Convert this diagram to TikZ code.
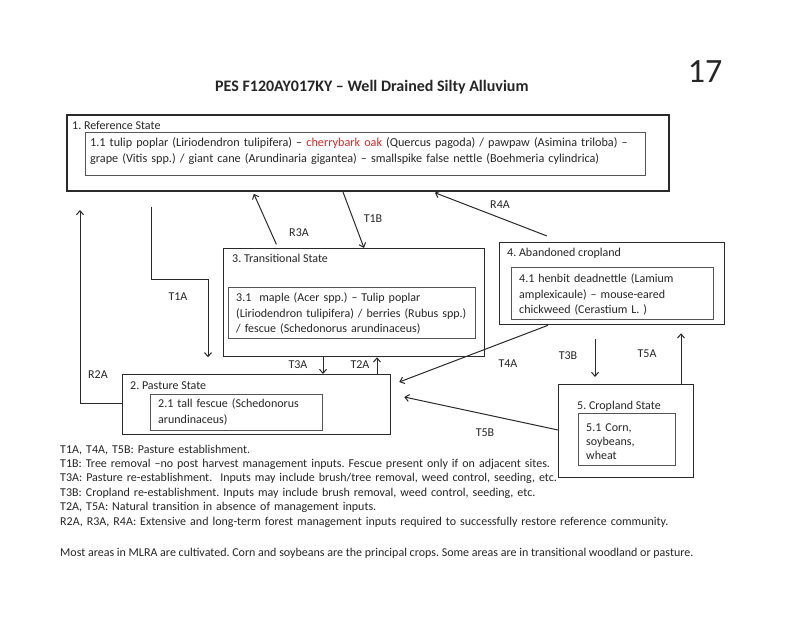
\documentclass[tikz,border=0pt]{standalone}
\usepackage{fontspec}
\setmainfont{Carlito}
\usetikzlibrary{arrows.meta,calc}
\definecolor{txt}{HTML}{262626}
\definecolor{ln}{HTML}{2A2A2A}
\definecolor{inln}{HTML}{555555}
\definecolor{oak}{HTML}{D42A2A}
\tikzset{
  refbox/.style={draw=ln, line width=2pt, rectangle, inner sep=0pt, anchor=north west},
  outerbox/.style={draw=ln, line width=1.3pt, rectangle, inner sep=0pt, anchor=north west},
  innerbox/.style={draw=inln, line width=0.9pt, rectangle, inner sep=0pt, anchor=north west},
  arr/.style={draw=ln, line width=1pt, -{Straight Barb[length=4pt,width=7pt]}},
  lbl/.style={font=\fontsize{12}{14.4}\selectfont, text=txt, anchor=base west, inner sep=0pt},
  multi/.style={lbl, align=left, text width=#1},
  tlbl/.style={font=\fontsize{12}{14.4}\selectfont, text=txt, inner sep=0pt},
}
\frenchspacing
\begin{document}
\begin{tikzpicture}[x=1pt,y=-1pt]
\useasboundingbox[fill=white] (0,0) rectangle (800,617);

% title and page number
\node[font=\fontsize{34}{34}\selectfont, text=txt, inner sep=0pt] (pagenum) at (705,72) {17};
\node[font=\bfseries\fontsize{16}{18}\selectfont, text=txt, anchor=base west, inner sep=0pt] (title) at (215,92) {PES F120AY017KY – Well Drained Silty Alluvium};

% state boxes
\node[refbox, minimum width=602pt, minimum height=76pt] (ref) at (66,114) {};
\node[innerbox, minimum width=560pt, minimum height=43pt] (ref1) at (85,132) {};
\node[outerbox, minimum width=261pt, minimum height=108pt] (trans) at (223,248) {};
\node[innerbox, minimum width=247pt, minimum height=51pt] (trans1) at (228,287) {};
\node[outerbox, minimum width=225pt, minimum height=82pt] (aband) at (499,242) {};
\node[innerbox, minimum width=202pt, minimum height=52pt] (aband1) at (511,267) {};
\node[outerbox, minimum width=135pt, minimum height=93pt] (crop) at (558,384) {};
\node[innerbox, minimum width=97pt, minimum height=52pt] (crop1) at (578,413) {};
\node[outerbox, minimum width=268pt, minimum height=60pt] (past) at (122,374) {};
\node[innerbox, minimum width=172pt, minimum height=36pt] (past1) at (150,394) {};

% state texts
\node[lbl] (reft) at (72,130) {1. Reference State};
\node[multi=560pt, font=\fontsize{12.2}{16}\selectfont] (ref1t) at (90,147) {1.1 tulip poplar (Liriodendron tulipifera) – \textcolor{oak}{cherrybark oak} (Quercus pagoda) / pawpaw (Asimina triloba) –\\grape (Vitis spp.) / giant cane (Arundinaria gigantea) – smallspike false nettle (Boehmeria cylindrica)};
\node[lbl] (transt) at (232,263) {3. Transitional State};
\node[multi=240pt, font=\fontsize{12}{15.5}\selectfont] (trans1t) at (236,302) {3.1\ \ maple (Acer spp.) – Tulip poplar\\(Liriodendron tulipifera) / berries (Rubus spp.)\\/ fescue (Schedonorus arundinaceus)};
\node[lbl] (abandt) at (507,257) {4. Abandoned cropland};
\node[multi=200pt, font=\fontsize{12}{15.5}\selectfont] (aband1t) at (519,283) {4.1 henbit deadnettle (Lamium\\amplexicaule) – mouse-eared\\chickweed (Cerastium L. )};
\node[lbl] (cropt) at (577,409) {5. Cropland State};
\node[multi=90pt, font=\fontsize{12}{14}\selectfont] (crop1t) at (586,431) {5.1 Corn,\\soybeans,\\wheat};
\node[lbl] (pastt) at (130,389) {2. Pasture State};
\node[multi=170pt, font=\fontsize{12}{16}\selectfont] (past1t) at (158,407) {2.1 tall fescue (Schedonorus\\arundinaceus)};

% connectors
\coordinate (t1abend) at (208,280);
\draw[arr, shorten <=15pt] ([xshift=85pt]ref.south west) |- (t1abend) -- (t1abend |- trans.south);
\draw[arr, shorten >=18pt] ([yshift=-29pt]past.north west) -| ([xshift=14pt]ref.south west);
\draw[arr, shorten <=4pt, shorten >=2pt] ([xshift=55pt]trans.north west) -- ([xshift=187pt]ref.south west);
\draw[arr] ([xshift=277pt]ref.south west) -- ([xshift=141pt]trans.north west);
\draw[arr, shorten >=2pt] ([xshift=48pt,yshift=6pt]aband.north west) -- ([xshift=367pt]ref.south west);
\coordinate (t3a) at ([xshift=100pt]trans.south west);
\draw[arr] (t3a) -- (t3a |- past.north);
\coordinate (t2a) at ([xshift=255pt]past.north west);
\draw[arr] (t2a) -- (t2a |- trans.south);
\draw[arr] ([xshift=49pt]aband.south west) -- ([xshift=8pt,yshift=-8pt]past.north east);
\draw[arr] ([yshift=-46pt]crop.north west) -- ([xshift=13pt,yshift=-23pt]past.north east);
\coordinate (t3b) at ([xshift=96pt]aband.south west);
\draw[arr, shorten <=14pt, shorten >=7pt] (t3b) -- (t3b |- crop.north);
\coordinate (t5a) at ([xshift=123pt]crop.north west);
\draw[arr, shorten >=8pt] (t5a) -- (t5a |- aband.south);

% transition labels
\node[tlbl] (lr2a) at (98,375) {R2A};
\node[tlbl] (lt1a) at (178,297) {T1A};
\node[tlbl] (lr3a) at (299,233) {R3A};
\node[tlbl] (lt1b) at (373,219) {T1B};
\node[tlbl] (lr4a) at (500,205) {R4A};
\node[tlbl] (lt3a) at (298,365) {T3A};
\node[tlbl] (lt2a) at (360,365) {T2A};
\node[tlbl] (lt4a) at (508,364) {T4A};
\node[tlbl] (lt3b) at (568,356) {T3B};
\node[tlbl] (lt5a) at (647,354) {T5A};
\node[tlbl] (lt5b) at (485,433) {T5B};

% notes
\node[multi=700pt] (notes) at (60,453) {T1A, T4A, T5B: Pasture establishment.\\
T1B: Tree removal –no post harvest management inputs. Fescue present only if on adjacent sites.\\
T3A: Pasture re-establishment.\ \ Inputs may include brush/tree removal, weed control, seeding, etc.\\
T3B: Cropland re-establishment. Inputs may include brush removal, weed control, seeding, etc.\\
T2A, T5A: Natural transition in absence of management inputs.\\
R2A, R3A, R4A: Extensive and long-term forest management inputs required to successfully restore reference community.};
\node[lbl] (most) at (60,556) {Most areas in MLRA are cultivated. Corn and soybeans are the principal crops. Some areas are in transitional woodland or pasture.};
\end{tikzpicture}
\end{document}
